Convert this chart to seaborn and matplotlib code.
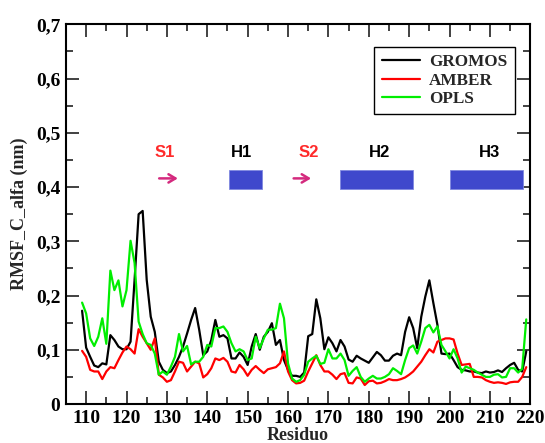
import numpy as np
import pandas as pd
import seaborn as sns
import matplotlib
matplotlib.use("Agg")
import matplotlib.pyplot as plt
from matplotlib.ticker import MultipleLocator, FuncFormatter
from matplotlib.patches import Rectangle

residues = list(range(109, 220))

gromos = [0.172, 0.104, 0.087, 0.071, 0.068, 0.075, 0.073, 0.127, 0.118, 0.106,
          0.101, 0.101, 0.115, 0.229, 0.350, 0.356, 0.229, 0.161, 0.133, 0.078,
          0.063, 0.057, 0.060, 0.072, 0.087, 0.106, 0.130, 0.155, 0.177, 0.137,
          0.090, 0.097, 0.118, 0.155, 0.124, 0.127, 0.121, 0.084, 0.084, 0.095,
          0.087, 0.072, 0.106, 0.129, 0.100, 0.124, 0.133, 0.149, 0.109, 0.118,
          0.081, 0.063, 0.052, 0.052, 0.050, 0.058, 0.125, 0.129, 0.193, 0.158,
          0.101, 0.123, 0.112, 0.097, 0.118, 0.106, 0.082, 0.078, 0.089, 0.084,
          0.080, 0.076, 0.086, 0.096, 0.090, 0.080, 0.080, 0.089, 0.093, 0.090,
          0.133, 0.160, 0.140, 0.103, 0.161, 0.198, 0.228, 0.186, 0.146, 0.093,
          0.092, 0.093, 0.081, 0.068, 0.063, 0.062, 0.060, 0.060, 0.058, 0.057,
          0.060, 0.058, 0.059, 0.062, 0.059, 0.066, 0.072, 0.076, 0.063, 0.060,
          0.097]

amber = [0.098, 0.087, 0.063, 0.060, 0.060, 0.046, 0.060, 0.068, 0.066, 0.081,
         0.095, 0.106, 0.101, 0.093, 0.138, 0.124, 0.112, 0.100, 0.121, 0.054,
         0.049, 0.041, 0.044, 0.060, 0.078, 0.076, 0.060, 0.069, 0.078, 0.075,
         0.049, 0.055, 0.066, 0.084, 0.081, 0.085, 0.078, 0.060, 0.058, 0.072,
         0.064, 0.052, 0.063, 0.070, 0.063, 0.057, 0.064, 0.066, 0.068, 0.075,
         0.097, 0.060, 0.044, 0.038, 0.039, 0.043, 0.060, 0.075, 0.090, 0.072,
         0.060, 0.060, 0.054, 0.046, 0.055, 0.057, 0.039, 0.038, 0.049, 0.047,
         0.035, 0.042, 0.043, 0.038, 0.039, 0.042, 0.046, 0.044, 0.044, 0.046,
         0.049, 0.054, 0.060, 0.069, 0.078, 0.090, 0.101, 0.095, 0.115, 0.118,
         0.121, 0.121, 0.119, 0.093, 0.072, 0.073, 0.074, 0.050, 0.050, 0.049,
         0.044, 0.041, 0.039, 0.040, 0.039, 0.037, 0.040, 0.041, 0.041, 0.050,
         0.068]

opls = [0.187, 0.167, 0.121, 0.107, 0.124, 0.158, 0.111, 0.246, 0.210, 0.228,
        0.180, 0.210, 0.301, 0.260, 0.152, 0.129, 0.112, 0.109, 0.093, 0.054,
        0.060, 0.054, 0.069, 0.087, 0.129, 0.097, 0.107, 0.073, 0.078, 0.078,
        0.087, 0.109, 0.106, 0.140, 0.140, 0.143, 0.133, 0.112, 0.097, 0.101,
        0.097, 0.081, 0.084, 0.124, 0.103, 0.121, 0.137, 0.137, 0.140, 0.185,
        0.158, 0.075, 0.047, 0.041, 0.044, 0.054, 0.078, 0.084, 0.089, 0.074,
        0.076, 0.101, 0.084, 0.084, 0.093, 0.081, 0.052, 0.061, 0.068, 0.050,
        0.041, 0.047, 0.052, 0.047, 0.047, 0.050, 0.055, 0.066, 0.061, 0.055,
        0.081, 0.103, 0.108, 0.093, 0.115, 0.140, 0.146, 0.132, 0.143, 0.109,
        0.097, 0.084, 0.101, 0.084, 0.058, 0.069, 0.066, 0.063, 0.058, 0.054,
        0.050, 0.050, 0.054, 0.055, 0.049, 0.050, 0.066, 0.066, 0.058, 0.065,
        0.156]

series_names = ["GROMOS", "AMBER", "OPLS"]
series_colors = ["#000000", "#ff0000", "#00ee00"]

# secondary structure annotations
sheet_labels = ["S1", "S2"]
sheet_label_x = [129.5, 165.2]
sheet_arrow_start = [127.4, 160.7]
sheet_arrow_end = [133.4, 166.4]
helix_labels = ["H1", "H2", "H3"]
helix_label_x = [148.5, 182.7, 209.9]
helix_start = [145.3, 172.8, 200.0]
helix_end = [153.5, 190.9, 218.3]

df = pd.concat([
    pd.DataFrame({"Residuo": residues, "RMSF": vals, "Campo": name})
    for name, vals in zip(series_names, [gromos, amber, opls])
])

sns.set_style("ticks")
plt.rcParams["font.family"] = ["Liberation Serif", "DejaVu Serif"]

fig = plt.figure(figsize=(5.45, 4.43), dpi=100)
ax = fig.add_axes([0.121, 0.088, 0.852, 0.857])

sns.lineplot(data=df, x="Residuo", y="RMSF", hue="Campo",
             palette=dict(zip(series_names, series_colors)),
             linewidth=1.6, ax=ax, legend=False)

ax.set_xlim(105, 220)
ax.set_ylim(0, 0.7)
ax.xaxis.set_major_locator(MultipleLocator(10))
ax.xaxis.set_minor_locator(MultipleLocator(5))
ax.yaxis.set_major_locator(MultipleLocator(0.1))
ax.yaxis.set_minor_locator(MultipleLocator(0.05))
ax.yaxis.set_major_formatter(FuncFormatter(
    lambda v, p: "0" if abs(v) < 1e-9 else f"{v:.1f}".replace(".", ",")))
ax.tick_params(which="both", direction="in", top=True, right=True,
               width=1.3, colors="#333333", labelcolor="black")
ax.tick_params(which="major", length=9.5, labelsize=14, pad=4)
ax.tick_params(which="minor", length=4.8)
for lab in ax.get_xticklabels() + ax.get_yticklabels():
    lab.set_fontweight("bold")
for s in ax.spines.values():
    s.set_linewidth(1.5)
    s.set_color("black")

ax.set_xlabel("Residuo", fontsize=13, fontweight="bold", labelpad=0)
ax.set_ylabel("RMSF_C_alfa (nm)", fontsize=13, fontweight="bold", labelpad=6)

# legend
handles = [plt.Line2D([], [], color=c, lw=1.6) for c in series_colors]
leg = ax.legend(handles, series_names, loc="upper left",
                bbox_to_anchor=(0.664, 0.941), borderaxespad=0,
                prop={"family": "Liberation Serif", "weight": "bold", "size": 12.3},
                handlelength=2.2, handletextpad=0.55, labelspacing=0.12,
                borderpad=0.45, fancybox=False, framealpha=1)
leg.get_frame().set_edgecolor("black")
leg.get_frame().set_linewidth(1.0)

# secondary structure
y_lab = 0.463
for lab, xl, xs, xe in zip(sheet_labels, sheet_label_x, sheet_arrow_start, sheet_arrow_end):
    ax.text(xl, y_lab, lab, color="#ff2a2a", fontsize=12, fontweight="bold",
            family="Liberation Sans", ha="center", va="center")
    ax.annotate("", xy=(xe, 0.416), xytext=(xs, 0.416),
                arrowprops=dict(arrowstyle="->,head_length=0.5,head_width=0.3",
                                color="#d42a7e", lw=1.8))
for lab, xl, xs, xe in zip(helix_labels, helix_label_x, helix_start, helix_end):
    ax.text(xl, y_lab, lab, color="black", fontsize=12, fontweight="bold",
            family="Liberation Sans", ha="center", va="center")
    ax.add_patch(Rectangle((xs, 0.397), xe - xs, 0.034,
                           facecolor="#3f48cc", edgecolor="#8088e0", lw=0.6))

fig.savefig("out.png", dpi=100)
